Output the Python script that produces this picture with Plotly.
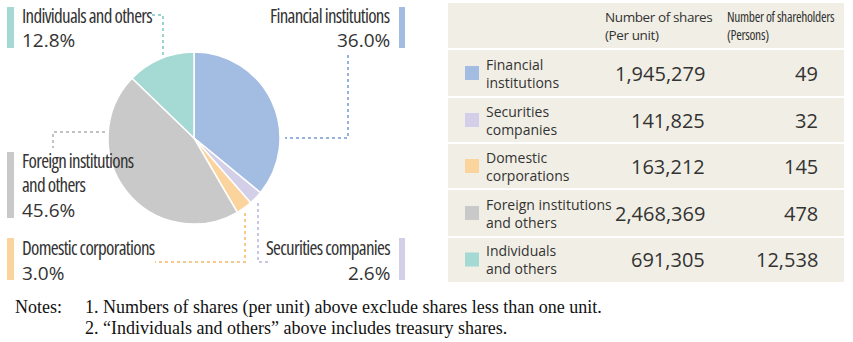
import plotly.graph_objects as go

# ---------------- data ----------------
categories = ["Financial institutions", "Securities companies", "Domestic corporations",
              "Foreign institutions and others", "Individuals and others"]
pie_label_lines = [["Financial institutions"], ["Securities companies"], ["Domestic corporations"],
                   ["Foreign institutions", "and others"], ["Individuals and others"]]
table_labels = ["Financial<br>institutions", "Securities<br>companies", "Domestic<br>corporations",
                "Foreign institutions<br>and others", "Individuals<br>and others"]
shares = [1945279, 141825, 163212, 2468369, 691305]
shareholders = [49, 32, 145, 478, 12538]
header_shares = ["Number of shares", "(Per unit)"]
header_holders = ["Number of shareholders", "(Persons)"]
notes_title = "Notes:"
notes = ["1. Numbers of shares (per unit) above exclude shares less than one unit.",
         "2. \u201cIndividuals and others\u201d above includes treasury shares."]

# ---------------- style ----------------
colors = ["#a3bce2", "#d3cfe8", "#fbd39d", "#c9c9c9", "#a5d9d3"]
dot_colors = ["#97b2de", "#cbc6e6", "#f7c98a", "#c2c2c2", "#98d3cc"]
W, H = 853, 342
TXT = "#333333"
SANS = "Open Sans, Noto Sans, sans-serif"
SERIF = "Liberation Serif, Times New Roman, serif"


def styled(t, spacing=0.0, condensed=True):
    st = []
    if condensed:
        st.append("font-stretch:condensed")
    if spacing:
        st.append(f"letter-spacing:{spacing}px")
    return f'<span style="{";".join(st)}">{t}</span>'


# pie geometry (px)
cx, cy, r = 194, 138, 86

label_layout = [
    dict(bx=(399, 405), by=(7, 48), tx=392, anchor="right", ny=[16], py=40),
    dict(bx=(399, 405), by=(238, 280), tx=392, anchor="right", ny=[248], py=273),
    dict(bx=(7, 14), by=(238, 280), tx=20, anchor="left", ny=[248], py=273),
    dict(bx=(7, 14), by=(152, 218), tx=20, anchor="left", ny=[161, 185], py=210),
    dict(bx=(7, 14), by=(7, 48), tx=20, anchor="left", ny=[16], py=40),
]
leaders = [
    [(348, 55), (348, 138), (285, 138)],
    [(258, 203), (258, 262), (268, 262)],
    [(245, 213), (245, 262), (155, 262)],
    [(105, 132), (53, 132), (53, 148)],
    [(152, 15), (163, 15), (163, 55)],
]

# table geometry
tx0, tx1, ty0, ty1 = 448, 844, 3, 282
row_edges = [49, 97, 143, 189, 237, 282]
row_centers = [(row_edges[i] + row_edges[i + 1]) / 2 for i in range(5)]

fig = go.Figure()

fig.add_trace(go.Pie(
    values=shares, labels=categories, sort=False, direction="clockwise", rotation=0,
    marker=dict(colors=colors, line=dict(color="white", width=1.5)),
    textinfo="none", hoverinfo="label+percent", showlegend=False,
    domain=dict(x=[(cx - r) / W, (cx + r) / W], y=[1 - (cy + r) / H, 1 - (cy - r) / H]),
))

shapes = []
annotations = []

shapes.append(dict(type="rect", xref="x", yref="y", x0=tx0, x1=tx1, y0=ty0, y1=ty1,
                   fillcolor="#f1efe5", line=dict(width=0), layer="below"))
for ye in row_edges[:-1]:
    shapes.append(dict(type="line", xref="x", yref="y", x0=tx0, x1=tx1, y0=ye, y1=ye,
                       line=dict(color="white", width=2)))

fig.add_trace(go.Scatter(
    x=[472] * 5, y=row_centers, mode="markers",
    marker=dict(symbol="square", size=14, color=colors, line=dict(width=0)),
    hoverinfo="skip", showlegend=False,
))

# headers
for k, t in enumerate(header_shares):
    annotations.append(dict(x=603, y=17 + 18 * k, xref="x", yref="y", text=styled(t, -0.4, False),
                            showarrow=False, xanchor="left", yanchor="middle",
                            font=dict(family=SANS, size=13.5, color=TXT)))
for k, t in enumerate(header_holders):
    annotations.append(dict(x=725, y=17 + 18 * k, xref="x", yref="y", text=styled(t, -0.3), showarrow=False,
                            xanchor="left", yanchor="middle",
                            font=dict(family=SANS, size=13.5, color=TXT)))

for i in range(5):
    yc = row_centers[i]
    annotations.append(dict(x=484, y=yc, xref="x", yref="y", text=table_labels[i], showarrow=False,
                            xanchor="left", yanchor="middle", align="left",
                            font=dict(family=SANS, size=14, color=TXT)))
    annotations.append(dict(x=707, y=yc, xref="x", yref="y", text=f"{shares[i]:,}", showarrow=False,
                            xanchor="right", yanchor="middle",
                            font=dict(family=SANS, size=20, color=TXT)))
    annotations.append(dict(x=820, y=yc, xref="x", yref="y", text=f"{shareholders[i]:,}", showarrow=False,
                            xanchor="right", yanchor="middle",
                            font=dict(family=SANS, size=20, color=TXT)))

# pie labels
total = sum(shares)
for i in range(5):
    L = label_layout[i]
    shapes.append(dict(type="rect", xref="x", yref="y", x0=L["bx"][0], x1=L["bx"][1],
                       y0=L["by"][0], y1=L["by"][1], fillcolor=colors[i], line=dict(width=0)))
    for line_txt, ny in zip(pie_label_lines[i], L["ny"]):
        annotations.append(dict(x=L["tx"], y=ny, xref="x", yref="y", text=styled(line_txt, -0.7),
                                showarrow=False, xanchor=L["anchor"], yanchor="middle",
                                font=dict(family=SANS, size=19, color=TXT)))
    annotations.append(dict(x=L["tx"], y=L["py"], xref="x", yref="y",
                            text=f"{100 * shares[i] / total:.1f}%", showarrow=False,
                            xanchor=L["anchor"], yanchor="middle",
                            font=dict(family=SANS, size=19, color=TXT)))
    path = "M " + " L ".join(f"{px},{py}" for px, py in leaders[i])
    shapes.append(dict(type="path", xref="x", yref="y", path=path,
                       line=dict(color=dot_colors[i], width=2, dash="dot")))

# notes
annotations.append(dict(x=13, y=307, xref="x", yref="y", text=notes_title, showarrow=False,
                        xanchor="left", yanchor="middle", font=dict(family=SERIF, size=18, color="#111")))
for k, nt in enumerate(notes):
    annotations.append(dict(x=83, y=307 + 21 * k, xref="x", yref="y", text=nt, showarrow=False,
                            xanchor="left", yanchor="middle", font=dict(family=SERIF, size=18, color="#111")))

fig.update_layout(
    width=W, height=H, margin=dict(l=0, r=0, t=0, b=0),
    paper_bgcolor="white", plot_bgcolor="white",
    xaxis=dict(range=[0, W], visible=False, fixedrange=True),
    yaxis=dict(range=[H, 0], visible=False, fixedrange=True),
    shapes=shapes, annotations=annotations,
)

fig.write_html("out.html")
